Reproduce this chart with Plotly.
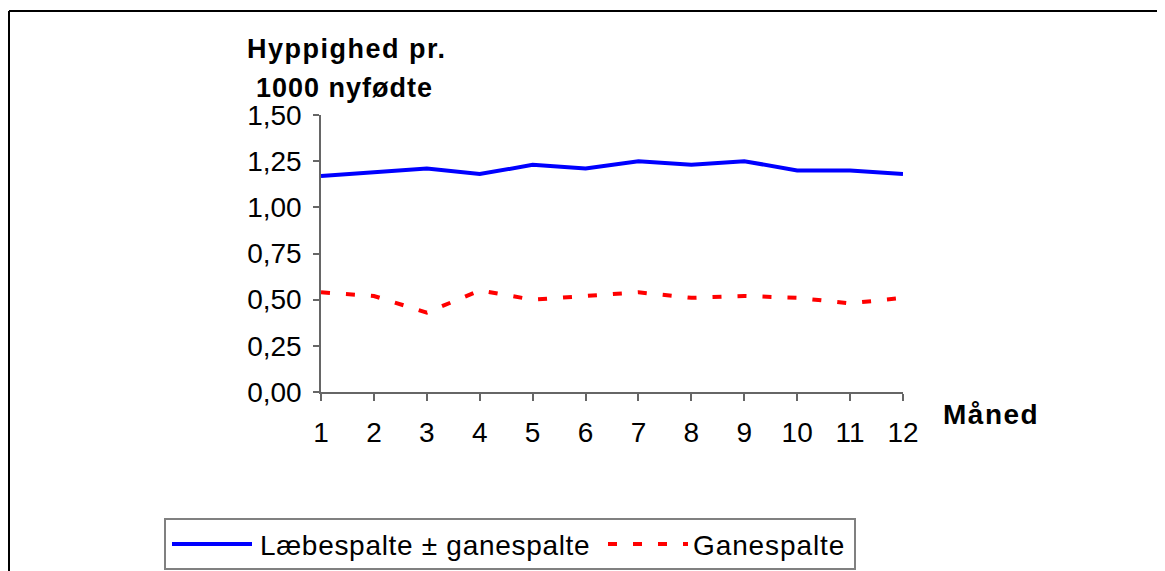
import plotly.graph_objects as go

months = list(range(1, 13))
month_labels = [str(m) for m in months]
laebespalte = [1.17, 1.19, 1.21, 1.18, 1.23, 1.21, 1.25, 1.23, 1.25, 1.20, 1.20, 1.18]
ganespalte = [0.54, 0.52, 0.43, 0.55, 0.50, 0.52, 0.54, 0.51, 0.52, 0.51, 0.48, 0.51]
y_ticks = [0, 0.25, 0.5, 0.75, 1.0, 1.25, 1.5]
series_names = ["Læbespalte ± ganespalte", "Ganespalte"]

W, H = 1165, 571
OFF = 8  # page body margin
L, R, T, B = 321 - OFF, 903 - OFF, 115 - OFF, 392 - OFF
FONT = "Liberation Sans, Arial, sans-serif"
BLUE = "#0000ff"
RED = "#ff0000"


def px(x):
    return (x - OFF - L) / (R - L)


def py(y):
    return (B - (y - OFF)) / (B - T)


def spaced(t, s):
    return '<span style="letter-spacing:%spx">%s</span>' % (s, t)


fig = go.Figure()
fig.add_trace(go.Scatter(x=months, y=laebespalte, mode="lines", name=series_names[0],
                         line=dict(color=BLUE, width=4), showlegend=False))
fig.add_trace(go.Scatter(x=months, y=ganespalte, mode="lines", name=series_names[1],
                         line=dict(color=RED, width=4, dash="9px,16px"), showlegend=False))

shapes = [
    dict(type="line", xref="paper", yref="paper", x0=px(9), y0=py(580), x1=px(9), y1=py(11),
         line=dict(color="black", width=2)),
    dict(type="line", xref="paper", yref="paper", x0=px(9), y0=py(11), x1=px(1175), y1=py(11),
         line=dict(color="black", width=2)),
    dict(type="rect", xref="paper", yref="paper", x0=px(165), y0=py(569), x1=px(855), y1=py(519),
         line=dict(color="#808080", width=2), fillcolor="white"),
    dict(type="line", xref="paper", yref="paper", x0=px(172), y0=py(544), x1=px(252), y1=py(544),
         line=dict(color=BLUE, width=4)),
    dict(type="line", xref="paper", yref="paper", x0=px(608), y0=py(544), x1=px(688), y1=py(544),
         line=dict(color=RED, width=4, dash="9px,16px")),
]

annotations = [
    dict(text="<b>" + spaced("Hyppighed pr.", 1.5) + "</b>", x=px(245), y=py(49),
         xref="paper", yref="paper", xanchor="left", yanchor="middle", showarrow=False,
         font=dict(family=FONT, size=27, color="black")),
    dict(text="<b>" + spaced("1000 nyfødte", 1.0) + "</b>", x=px(254), y=py(88),
         xref="paper", yref="paper", xanchor="left", yanchor="middle", showarrow=False,
         font=dict(family=FONT, size=27, color="black")),
    dict(text="<b>" + spaced("Måned", 1.5) + "</b>", x=px(941), y=py(414),
         xref="paper", yref="paper", xanchor="left", yanchor="middle", showarrow=False,
         font=dict(family=FONT, size=28, color="black")),
    dict(text=spaced(series_names[0], 0.7), x=px(258), y=py(545), xref="paper", yref="paper",
         xanchor="left", yanchor="middle", showarrow=False,
         font=dict(family=FONT, size=28, color="black")),
    dict(text=spaced(series_names[1], 0.9), x=px(691), y=py(545), xref="paper", yref="paper",
         xanchor="left", yanchor="middle", showarrow=False,
         font=dict(family=FONT, size=28, color="black")),
]

fig.update_layout(
    width=W, height=H,
    margin=dict(l=L, r=W - R, t=T, b=H - B, pad=0),
    paper_bgcolor="white", plot_bgcolor="white",
    separators=",.",
    font=dict(family=FONT, size=28, color="black"),
    shapes=shapes, annotations=annotations,
    showlegend=False,
)
fig.update_xaxes(range=[1, 12], tickvals=months, ticktext=month_labels,
                 showgrid=False, zeroline=False, showline=True, linecolor="#666666", linewidth=1.5,
                 ticks="outside", ticklen=7, tickwidth=1.5, tickcolor="#666666",
                 ticklabelstandoff=8,
                 tickfont=dict(family=FONT, size=28, color="black"))
fig.update_yaxes(range=[0, 1.5], tickvals=y_ticks, tickformat=".2f",
                 showgrid=False, zeroline=False, showline=True, linecolor="#666666", linewidth=1.5,
                 ticks="outside", ticklen=6, tickwidth=1.5, tickcolor="#666666",
                 ticklabelstandoff=6,
                 tickfont=dict(family=FONT, size=28, color="black"))

fig.write_html("out.html")
